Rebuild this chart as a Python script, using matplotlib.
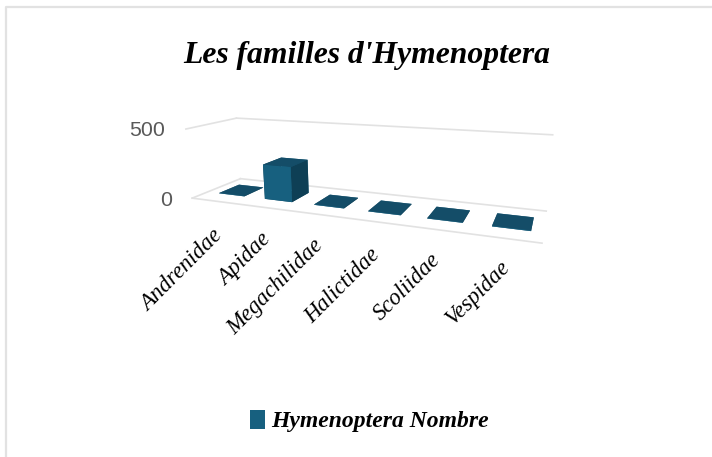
import matplotlib
matplotlib.use('Agg')
import matplotlib.pyplot as plt
from matplotlib.patches import Patch
from matplotlib.lines import Line2D
from mpl_toolkits.mplot3d import Axes3D

categories = ['Andrenidae', 'Apidae', 'Megachilidae', 'Halictidae', 'Scoliidae', 'Vespidae']
values = [3, 250, 4, 3, 3, 4]
z_ticks = [0, 500]
title = "Les familles d'Hymenoptera"
series_name = 'Hymenoptera Nombre'

W, H = 712, 457
FRONT, SIDE, TOP = '#17607f', '#0e3f55', '#144d68'
GRID = '#e2e2e2'
SERIF = 'Liberation Serif'

fig = plt.figure(figsize=(W / 100, H / 100), dpi=100)
fig.patch.set_facecolor('white')

# outer frame of the chart (top and left edges only are visible)
fig.add_artist(Line2D([6 / W, 6 / W, 1], [0, 1 - 7 / H, 1 - 7 / H], color='#e2e2e2', lw=1.6))

ax = fig.add_axes([175.17 / W, 103.55 / H, 359.85 / W, 359.85 / H], projection='3d')
ax.patch.set_alpha(0)
ax.set_xlim(0, 6, view_margin=0)
ax.set_ylim(0, 1, view_margin=0)
ax.set_zlim(0, 500, view_margin=0)
ax.view_init(elev=13.6, azim=-67.777, roll=0.466)
ax.set_proj_type('persp', focal_length=0.2554)
ax.set_box_aspect((4.726, 1.168, 1))
ax.set_axis_off()

n = len(categories)
# floor and top gridlines
for z in z_ticks:
    ax.plot([0, 0], [0, 1], [z, z], color=GRID, lw=1.2, zorder=1)
    ax.plot([0, n], [1, 1], [z, z], color=GRID, lw=1.2, zorder=1)
ax.plot([0, n], [0, 0], [0, 0], color=GRID, lw=1.2, zorder=1)

bar_w, bar_d = 0.56, 0.42
for i, v in enumerate(values):
    # faces: bottom, top, front, back, left, right
    face = [TOP, TOP, FRONT, FRONT, SIDE, SIDE]
    ax.bar3d(i + 0.55 - bar_w / 2, 0.5 - bar_d / 2, 0, bar_w, bar_d, v,
             color=face, shade=False, zorder=3, edgecolor='none')

# the perspective frame runs past the square 3D axes box
for artist in list(ax.lines) + list(ax.collections):
    artist.set_clip_on(False)

# value tick labels
for z, px, py in zip(z_ticks, [172, 165], [200, 131]):
    fig.text(px / W, 1 - py / H, str(z), ha='right', va='center',
             fontsize=15.4, color='#595959', family='Liberation Sans')

# category tick labels
label_ends = [(212, 226), (260, 229), (313, 235), (369, 244), (430, 249), (500, 257)]
for name, (px, py) in zip(categories, label_ends):
    fig.text(px / W, 1 - py / H, name, rotation=45, rotation_mode='anchor',
             ha='right', va='top', fontsize=16.5, family=SERIF, style='italic', color='black')

fig.text(367 / W, 1 - 55 / H, title, ha='center', va='center', fontsize=22.8,
         family=SERIF, style='italic', weight='bold', color='black')

fig.legend(handles=[Patch(facecolor=FRONT, edgecolor='none', label=series_name)],
           loc='center', bbox_to_anchor=(369 / W, 1 - 421 / H), frameon=False,
           handlelength=0.65, handleheight=0.85, handletextpad=0.25,
           prop={'family': SERIF, 'style': 'italic', 'weight': 'bold', 'size': 17})

fig.savefig('out.png', dpi=100)
